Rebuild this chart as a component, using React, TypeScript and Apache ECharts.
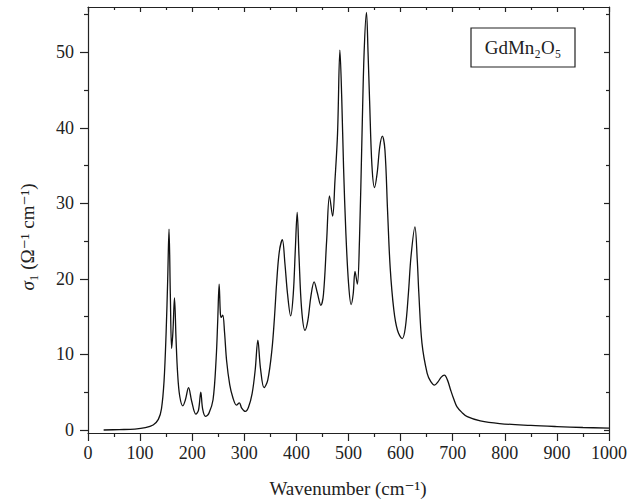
import React, { useEffect, useRef } from "react";
import * as echarts from "echarts";

// Wavenumber (cm^-1) and sigma_1 values
const wavenumbers = [
  30, 60, 90, 110, 125, 135, 141, 146, 150, 153, 155.5, 158, 160.5, 163, 166, 169, 172, 176, 182, 187,
  193, 199, 207, 212, 216.5, 220, 225.5, 232, 240, 246, 249, 251.7, 254, 255.5, 258.7, 262, 266, 272, 278, 285,
  290.5, 295, 302, 308, 315, 321, 326, 331, 338, 345, 353, 358, 362, 367, 373, 378, 383, 389, 394, 398,
  401.5, 405, 410, 416.5, 422, 428, 434, 440, 447, 452, 458, 463.5, 469.5, 474, 479, 483.5, 487, 490.5, 495, 500,
  505, 509, 512.5, 517, 521, 526, 530, 534.5, 537.5, 540.5, 545, 550, 555, 560, 565, 570, 575, 580, 587, 594,
  603, 609, 615, 620, 627.5, 632, 635, 641, 651, 658, 665, 672, 678, 684, 690, 696, 702, 708, 718, 728,
  753, 790, 850, 900, 950, 1000,
];
const sigma1 = [
  0.0, 0.05, 0.12, 0.3, 0.66, 1.4, 2.8, 6.5, 13, 20, 26.6, 18, 10.8, 13, 17.5, 12, 7.5, 4.5, 3.2, 4.0,
  5.6, 3.8, 2.1, 2.6, 5.0, 2.8, 1.8, 2.2, 4.0, 9.5, 14.5, 19.3, 15.5, 14.9, 15.2, 13, 9.2, 6.0, 4.3, 3.3,
  3.6, 2.9, 2.45, 3.0, 4.8, 8, 11.9, 8.2, 5.6, 6.6, 10.6, 15, 19.4, 23.5, 25.2, 22, 18, 15.1, 18, 24,
  28.8, 23, 16, 13.2, 14.5, 17.8, 19.6, 18.2, 16.5, 18, 25, 31.0, 28.3, 33, 39.3, 50.3, 44, 34.8, 26, 19.5,
  16.6, 18, 21.0, 19.3, 25, 39.3, 50, 55.3, 50, 43.6, 35, 32.1, 34, 37.5, 38.9, 37, 29, 21.5, 15.9, 13.2,
  12.1, 13.5, 18.1, 23, 26.9, 22.5, 18.1, 11.5, 7.5, 6.4, 5.95, 6.4, 7.0, 7.25, 6.6, 5.3, 4.1, 3.1, 2.3, 1.76,
  1.2, 0.85, 0.6, 0.45, 0.33, 0.25,
];
const yMajorTicks = [0, 10, 20, 30, 40, 50];
const yMinorTicks = [5, 15, 25, 35, 45, 55];

const xTitle = "Wavenumber (cm⁻¹)";
const yTitle = "{i|σ}₁ (Ω⁻¹ cm⁻¹)";
const legendLabel = "GdMn₂O₅";

const FONT = "'Liberation Serif', 'DejaVu Serif', serif";
const INK = "#222";

export default function App() {
  const ref = useRef<HTMLDivElement>(null);
  useEffect(() => {
    if (!ref.current) return;
    const chart = echarts.init(ref.current, null, { renderer: "svg" });
    const data = wavenumbers.map((w, i) => [w, sigma1[i]]);
    const lineStyle = { color: INK, width: 1.2 };
    const baseY = {
      type: "value" as const,
      min: -0.4,
      max: 56,
      splitLine: { show: false },
      axisLabel: { show: false },
    };
    chart.setOption({
      animation: false,
      backgroundColor: "#fff",
      grid: { left: 88, right: 30, top: 7, bottom: 67, containLabel: false },
      xAxis: [
        {
          type: "value",
          position: "bottom",
          min: 0,
          max: 1000,
          interval: 100,
          axisLine: { show: true, onZero: false, lineStyle },
          axisTick: { show: true, inside: false, length: 8, lineStyle },
          minorTick: { show: true, splitNumber: 2, length: 4, lineStyle },
          axisLabel: {
            fontSize: 18,
            fontFamily: FONT,
            color: INK,
            margin: 11,
            formatter: (v: number) => String(v),
          },
          splitLine: { show: false },
        },
        {
          type: "value",
          position: "top",
          min: 0,
          max: 1000,
          interval: 100,
          axisLine: { show: true, onZero: false, lineStyle },
          axisTick: { show: true, inside: true, length: 5, lineStyle },
          minorTick: { show: true, splitNumber: 2, length: 3, lineStyle },
          axisLabel: { show: false },
          splitLine: { show: false },
        },
      ],
      yAxis: [
        {
          ...baseY,
          position: "left",
          axisLine: { show: true, onZero: false, lineStyle },
          axisTick: { show: true, inside: false, length: 8, lineStyle, customValues: yMajorTicks },
          axisLabel: {
            show: true,
            customValues: yMajorTicks,
            fontSize: 18,
            fontFamily: FONT,
            color: INK,
            margin: 14,
          },
        },
        {
          ...baseY,
          position: "left",
          axisLine: { show: false, onZero: false },
          axisTick: { show: true, inside: false, length: 4, lineStyle, customValues: yMinorTicks },
        },
        {
          ...baseY,
          position: "right",
          axisLine: { show: true, onZero: false, lineStyle },
          axisTick: { show: true, inside: true, length: 5, lineStyle, customValues: yMajorTicks },
        },
        {
          ...baseY,
          position: "right",
          axisLine: { show: false, onZero: false },
          axisTick: { show: true, inside: true, length: 3, lineStyle, customValues: yMinorTicks },
        },
      ],
      series: [
        {
          type: "line",
          xAxisIndex: 0,
          yAxisIndex: 0,
          data,
          showSymbol: false,
          smooth: 0.35,
          lineStyle: { color: "#111", width: 1.3 },
          silent: true,
        },
      ],
      graphic: [
        {
          type: "rect",
          shape: { x: 471, y: 28, width: 104, height: 39 },
          style: { fill: "#fff", stroke: INK, lineWidth: 1.2 },
        },
        {
          type: "text",
          x: 523,
          y: 47,
          style: {
            text: legendLabel,
            font: `19px ${FONT}`,
            fill: INK,
            textAlign: "center",
            textVerticalAlign: "middle",
          },
        },
        {
          type: "text",
          x: 348,
          y: 488,
          style: {
            text: xTitle,
            font: `19px ${FONT}`,
            fill: INK,
            textAlign: "center",
            textVerticalAlign: "middle",
          },
        },
        {
          type: "text",
          x: 27,
          y: 237,
          rotation: Math.PI / 2,
          style: {
            text: yTitle,
            font: `19px ${FONT}`,
            fill: INK,
            textAlign: "center",
            textVerticalAlign: "middle",
            rich: {
              i: { fontStyle: "italic", fontSize: 19, fontFamily: FONT, fill: INK },
            },
          },
        },
      ],
    });
    return () => chart.dispose();
  }, []);
  return (
    <div
      ref={ref}
      style={{ position: "fixed", left: 0, top: 0, width: 639, height: 500, background: "#fff" }}
    />
  );
}
